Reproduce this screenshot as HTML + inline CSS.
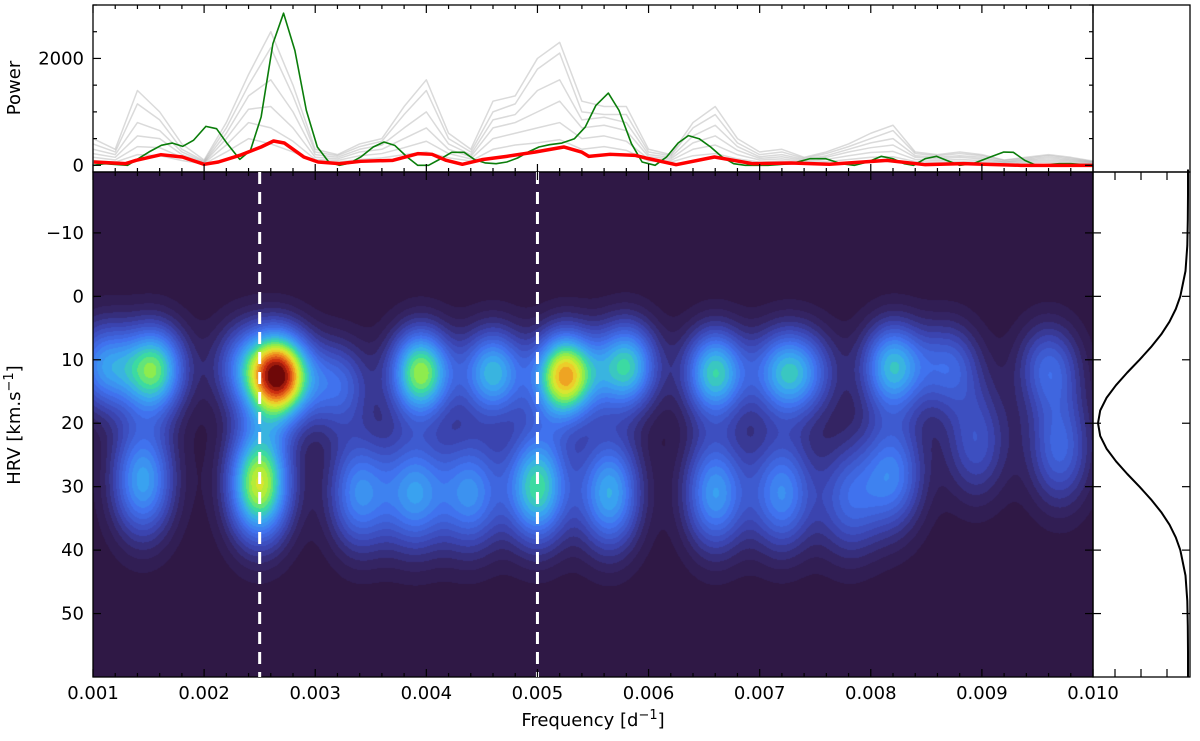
<!DOCTYPE html>
<html><head><meta charset="utf-8"><style>
body{margin:0;background:#fff;width:1200px;height:741px;overflow:hidden;position:relative;font-family:"DejaVu Sans","Liberation Sans",sans-serif}
#hm{position:absolute;left:93px;top:172px}
#sv{position:absolute;left:0;top:0}
</style></head><body>
<canvas id="hm" width="1000" height="505"></canvas>
<svg id="sv" width="1200" height="741"></svg>
<script>
// ---- data ----
const xTicks=[0.001,0.002,0.003,0.004,0.005,0.006,0.007,0.008,0.009,0.010];
const xTickLabels=["0.001","0.002","0.003","0.004","0.005","0.006","0.007","0.008","0.009","0.010"];
const hrvTicks=[-10,0,10,20,30,40,50];
const hrvTickLabels=["−10","0","10","20","30","40","50"];
const powerTicks=[0,2000];
const powerTickLabels=["0","2000"];
const markerFreqs=[0.0025,0.005];
const greenF=[0.001007,0.001103,0.001311,0.001407,0.001503,0.001615,0.001712,0.001808,0.001904,0.002016,0.002112,0.002208,0.002321,0.002417,0.002513,0.002619,0.002715,0.002817,0.00292,0.003019,0.003122,0.003218,0.003314,0.00341,0.003522,0.003619,0.003715,0.003827,0.003923,0.00402,0.004131,0.004228,0.00434,0.004436,0.004532,0.004628,0.004724,0.004821,0.004917,0.005013,0.005109,0.005221,0.005333,0.00543,0.005526,0.005638,0.005734,0.005846,0.005942,0.006059,0.006162,0.006266,0.006359,0.006455,0.006559,0.006662,0.006766,0.00687,0.007076,0.007283,0.007455,0.007593,0.007731,0.007852,0.007972,0.008093,0.008197,0.0083,0.008386,0.00849,0.008593,0.008697,0.0088,0.008921,0.009076,0.009197,0.009283,0.009386,0.00949,0.009697,0.0098,0.010];
const greenP=[0,31,0,125,249,374,417,355,467,729,685,405,112,280,903,2274,2847,2149,1028,343,62,0,44,156,343,436,374,156,0,0,125,243,243,106,44,31,62,137,249,343,386,417,498,716,1121,1352,1028,405,62,0,156,417,555,498,343,156,31,0,0,31,125,125,31,0,62,168,125,31,0,125,168,81,0,31,156,249,243,93,0,31,31,0];
const redF=[0.001007,0.001292,0.001388,0.001612,0.001804,0.002,0.002128,0.002321,0.002513,0.002625,0.002721,0.002897,0.003026,0.003218,0.00341,0.003699,0.003923,0.004051,0.004179,0.004324,0.0045,0.004724,0.004981,0.005237,0.005397,0.005462,0.005654,0.005878,0.006,0.006248,0.006593,0.006938,0.007283,0.007628,0.008145,0.00849,0.008835,0.009352,0.010];
const redP=[62,31,93,199,156,19,62,187,343,455,418,156,62,31,75,93,218,206,93,19,106,168,249,343,249,168,206,187,125,12,156,31,44,19,93,12,31,0,0];
const grayF=[0.0010,0.0012,0.0014,0.0016,0.0018,0.0020,0.0022,0.0024,0.0026,0.0028,0.0030,0.0032,0.0034,0.0036,0.0038,0.0040,0.0042,0.0044,0.0046,0.0048,0.0050,0.0052,0.0054,0.0056,0.0058,0.0060,0.0062,0.0064,0.0066,0.0068,0.0070,0.0072,0.0074,0.0076,0.0078,0.0080,0.0082,0.0084,0.0086,0.0088,0.0090,0.0092,0.0094,0.0096,0.0098,0.0100];
const gray1=[500,300,1400,1000,400,100,800,1700,2500,1500,300,200,400,500,1100,1600,600,300,1200,1300,2000,2300,1200,1100,1100,300,200,800,1100,500,250,300,150,250,400,600,750,250,200,250,200,100,150,200,150,80];
const gray2=[400,250,1150,850,300,80,700,1500,2200,1300,250,180,350,450,950,1400,500,250,1000,1150,1800,2100,1000,950,950,250,180,700,950,420,200,250,130,220,350,500,650,220,180,220,180,90,130,180,130,70];
const gray3=[300,200,800,650,250,60,600,1300,1600,1000,200,150,300,380,700,1000,400,200,850,950,1400,1600,850,900,800,200,150,550,750,350,160,200,110,180,300,420,500,180,150,180,150,70,110,150,110,60];
const gray4=[220,150,550,500,200,50,500,1050,1100,700,150,120,250,300,500,700,300,160,700,800,1000,1200,700,750,650,160,120,420,550,280,130,160,90,150,250,330,380,150,120,150,120,60,90,120,90,50];
const gray5=[150,100,350,330,150,40,380,800,700,450,110,90,180,220,330,450,220,120,500,600,700,800,500,550,450,120,90,300,380,200,100,120,70,110,180,240,260,110,90,110,90,45,70,90,70,40];
const gray6=[90,60,200,180,90,25,250,500,400,250,70,60,110,140,200,250,140,80,300,380,420,480,300,350,280,80,60,180,220,120,60,80,50,70,110,150,160,70,60,70,60,30,45,60,45,25];
// heatmap blobs: freq, hrv, amplitude
const blobF=[0.00110,0.00155,0.00235,0.00268,0.00320,0.00395,0.00460,0.00525,0.00580,0.00660,0.00720,0.00745,0.00820,0.00870,0.00960,0.00145,0.00250,0.00340,0.00390,0.00440,0.00500,0.00565,0.00660,0.00720,0.00780,0.00820,0.00895,0.00970];
const blobH=[11,11.5,11,12.5,14,12,12,12.5,11,12,12,12,11,11,11,29,29.5,31,31,31,30,31,31,31,32,28,23,24];
const blobA=[0.42,0.62,0.3,0.95,0.32,0.68,0.52,0.82,0.57,0.57,0.42,0.24,0.52,0.3,0.3,0.48,0.74,0.42,0.44,0.42,0.6,0.5,0.46,0.42,0.3,0.38,0.26,0.32];
const profileH=[-20,-16,-12,-8,-4,0,2,4,6,8,10,12,14,16,18,20,22,24,26,28,30,32,34,36,38,40,44,48,52,56,60];
const profileV=[0.0001,0.0003,0.002,0.008,0.028,0.085,0.135,0.206,0.298,0.411,0.539,0.674,0.80,0.906,0.976,1,0.976,0.906,0.80,0.674,0.539,0.411,0.298,0.206,0.135,0.085,0.028,0.008,0.002,0.0003,0.0001];
// ---- axes ----
const X0=93,X1=1093,MT=172,MB=677,PT=5,PB=172;
const fx=f=>X0+(f-0.001)/0.009*(X1-X0);
const hy=h=>MT+(h+19.6)/79.6*(MB-MT);
const py=p=>PB-(p+125)/3125*(PB-PT);
const NS="http://www.w3.org/2000/svg";
const sv=document.getElementById('sv');
function mk(t,a,p){const e=document.createElementNS(NS,t);for(const k in a)e.setAttribute(k,a[k]);(p||sv).appendChild(e);return e;}
// heatmap
const cv=document.getElementById('hm'),ctx=cv.getContext('2d');
const stops=[[0,[47,24,69]],[0.08,[52,36,100]],[0.2,[60,70,180]],[0.35,[64,115,240]],[0.48,[56,170,240]],[0.58,[60,220,160]],[0.67,[160,240,60]],[0.75,[235,225,45]],[0.84,[240,130,30]],[0.93,[200,40,15]],[1,[110,8,8]]];
function cmap(v){for(let i=1;i<stops.length;i++){if(v<=stops[i][0]){const a=stops[i-1],b=stops[i],t=(v-a[0])/(b[0]-a[0]);return a[1].map((c,j)=>Math.round(c+(b[1][j]-c)*t));}}return stops[stops.length-1][1];}
const img=ctx.createImageData(1000,505);
for(let py2=0;py2<505;py2++){const h=-19.6+(py2+0.5)/505*79.6;
 for(let px=0;px<1000;px++){const f=0.001+(px+0.5)/1000*0.009;let v=0;
  for(let b=0;b<blobF.length;b++){const sh=blobH[b]<20?5:6.5;const df=(f-blobF[b])/0.0002,dh=(h-blobH[b])/sh;v+=blobA[b]*Math.exp(-0.5*(df*df+dh*dh));}
  v=Math.min(1,v);v=Math.floor(v*26)/26;const c=cmap(v);const k=(py2*1000+px)*4;img.data[k]=c[0];img.data[k+1]=c[1];img.data[k+2]=c[2];img.data[k+3]=255;}}
ctx.putImageData(img,0,0);
// top panel lines
function poly(F,P,st,w,name){const e=mk('polyline',{points:F.map((f,i)=>fx(f)+','+py(P[i])).join(' '),fill:'none',stroke:st,'stroke-width':w,'stroke-linejoin':'round'});return e;}
const clip=mk('clipPath',{id:'pc'});mk('rect',{x:X0,y:PT,width:X1-X0,height:PB-PT},clip);
const gg=mk('g',{'clip-path':'url(#pc)'});
[gray1,gray2,gray3,gray4,gray5,gray6].forEach((g,i)=>{const e=poly(grayF,g,'rgba(150,150,150,0.35)',1.5,'gray-periodogram-'+(i+1));gg.appendChild(e);});
gg.appendChild(poly(greenF,greenP,'#0a7d0a',1.6,'green-periodogram'));
gg.appendChild(poly(redF,redP,'#ff0000',3.5,'red-mean-periodogram'));
// frames
function frame(x,y,w,h,n){const e=mk('rect',{x:x,y:y,width:w,height:h,fill:'none',stroke:'#000','stroke-width':1.3});}
frame(X0,PT,X1-X0,PB-PT,'power-panel-frame');frame(X0,MT,X1-X0,MB-MT,'heatmap-frame');frame(X1,PT,97,PB-PT,'empty-corner-panel');frame(X1,MT,97,MB-MT,'profile-panel-frame');
// dashed markers
markerFreqs.forEach(f=>{const e=mk('line',{x1:fx(f),x2:fx(f),y1:MT,y2:MB,stroke:'#fff','stroke-width':3,'stroke-dasharray':'12,8'});});
// x ticks
for(let i=0;i<=45;i++){const f=0.001+i*0.0002,x=fx(f),L=i%5==0?8:4;
 [[PT,1],[PB,-1],[MT,1],[MB,-1]].forEach(([y,d])=>mk('line',{x1:x,x2:x,y1:y,y2:y+d*L,stroke:'#000','stroke-width':1.2}));}
xTicks.forEach((f,i)=>{const t=mk('text',{x:fx(f),y:699,'text-anchor':'middle','font-size':18});t.textContent=xTickLabels[i];});
// hrv ticks
hrvTicks.forEach((h,i)=>{const y=hy(h);
 mk('line',{x1:X0,x2:X0+8,y1:y,y2:y,stroke:'#000','stroke-width':1.2});mk('line',{x1:X1-8,x2:X1+8,y1:y,y2:y,stroke:'#000','stroke-width':1.2});mk('line',{x1:1190-8,x2:1190,y1:y,y2:y,stroke:'#000','stroke-width':1.2});
 const t=mk('text',{x:84,y:y+6,'text-anchor':'end','font-size':18});t.textContent=hrvTickLabels[i];});
// power ticks
for(let p=0;p<=3000;p+=500){const y=py(p),L=p%2000==0?8:4;mk('line',{x1:X0,x2:X0+L,y1:y,y2:y,stroke:'#000','stroke-width':1.2});mk('line',{x1:X1-L,x2:X1,y1:y,y2:y,stroke:'#000','stroke-width':1.2});}
powerTicks.forEach((p,i)=>{const t=mk('text',{x:84,y:py(p)+6,'text-anchor':'end','font-size':18});t.textContent=powerTickLabels[i];});
// right panel ticks
[1115,1141,1167].forEach(x=>{mk('line',{x1:x,x2:x,y1:MT,y2:MT+8,stroke:'#000','stroke-width':1.2});mk('line',{x1:x,x2:x,y1:MB,y2:MB-8,stroke:'#000','stroke-width':1.2});});
// profile
let d='';profileH.forEach((h,i)=>{d+=(i?' L':'M')+(1188-90*profileV[i]).toFixed(1)+','+hy(h).toFixed(1);});
const pe=mk('path',{d:d,fill:'none',stroke:'#000','stroke-width':2,'stroke-linejoin':'round'});

// axis titles
let t=mk('text',{x:593,y:726,'text-anchor':'middle','font-size':18});t.innerHTML='Frequency [d<tspan dy="-7" font-size="13">−1</tspan><tspan dy="7">]</tspan>';
t=mk('text',{x:0,y:0,'text-anchor':'middle','font-size':18,transform:'translate(20,425) rotate(-90)'});t.innerHTML='HRV [km.s<tspan dy="-7" font-size="13">−1</tspan><tspan dy="7">]</tspan>';
t=mk('text',{x:0,y:0,'text-anchor':'middle','font-size':18,transform:'translate(20,88) rotate(-90)'});t.textContent='Power';
</script>
</body></html>
